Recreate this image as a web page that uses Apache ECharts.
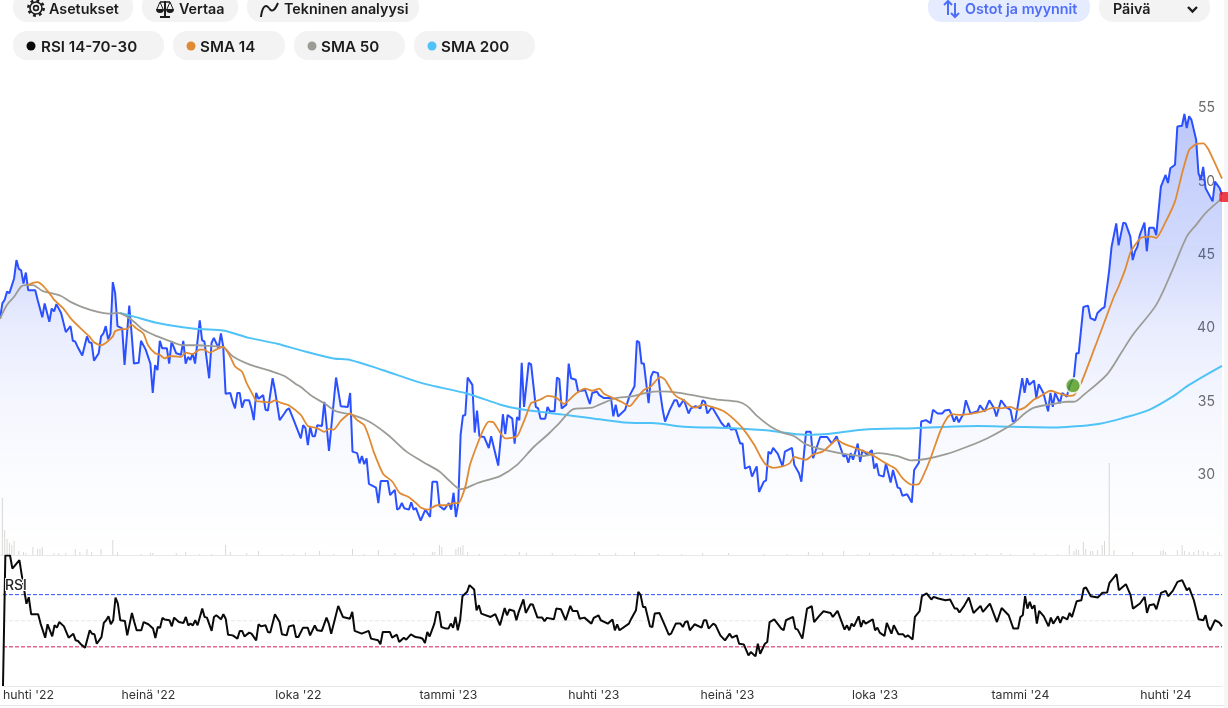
<!DOCTYPE html>
<html><head><meta charset="utf-8">
<style>html,body{margin:0;padding:0;background:#fff}#c{width:1228px;height:708px}</style>
<script src="https://cdn.jsdelivr.net/npm/echarts@6/dist/echarts.min.js"></script>
</head><body><div id="c"></div>
<script>
const tickDays=[0,62,126,190,252,309,372,434,496];
const tickLabels=["huhti '22","heinä '22","loka '22","tammi '23","huhti '23","heinä '23","loka '23","tammi '24","huhti '24"];
const priceTicks=[30,35,40,45,50,55];

const priceDay=[0,1,2,3,4,6,7,8,9,10,11,12,15,16,18,19,21,22,23,24,26,28,30,31,32,33,35,37,38,39,40,42,43,44,45,46,47,48,49,50,52,53,55,56,57,59,60,62,64,65,66,67,68,69,71,72,73,75,77,78,79,80,81,82,83,85,86,87,89,90,91,93,94,95,96,98,99,100,101,102,103,104,106,107,108,109,110,112,113,114,116,117,119,121,122,123,125,
128,129,130,131,132,133,134,135,137,138,140,143,145,148,149,150,152,153,154,155,156,157,160,161,162,165,166,168,169,170,171,172,174,175,176,177,179,181,183,184,186,187,189,191,192,193,194,195,196,197,198,199,201,202,203,204,206,208,209,212,214,215,216,218,219,220,221,222,223,225,226,228,229,230,232,233,234,236,237,238,239,241,242,243,245,246,249,251,252,254,255,
257,260,261,262,263,266,268,270,271,272,273,274,276,277,278,280,281,282,283,285,287,288,289,291,293,294,296,298,299,300,301,303,305,307,309,310,311,313,315,316,317,319,320,322,323,325,326,327,328,329,331,333,334,337,338,
340,341,343,345,346,349,352,354,356,359,360,361,362,363,365,366,367,369,371,372,373,374,376,377,379,380,382,383,384,386,388,389,391,392,394,396,397,399,401,402,404,405,406,407,408,410,411,413,416,417,419,421,423,424,426,428,430,431,432,435,436,437,438,440,441,442,444,446,447,448,449,451,452,454,455,
457,458,459,461,463,464,466,467,469,470,472,473,475,476,478,479,481,482,483,484,485,487,488,489,491,492,494,496,497,498,500,501,503,504,505,506,507,509,510,511,512,513,516,517,519,520];
const priceClose=[40.5,41.55,41.8,42.35,42.25,43.25,44.5,43.9,43.8,42.9,43.65,42.45,42.45,41.8,40.6,41.55,40.3,41.2,41.0,41.5,40.9,39.6,40.0,39.0,38.95,38.6,38.0,39.3,38.9,38.85,37.65,38.15,39.3,39.5,40.0,39.1,39.5,43.0,42.25,40.0,39.85,37.35,41.4,39.5,37.45,37.5,39.0,38.4,37.45,35.45,37.35,37.0,39.0,38.5,38.5,37.45,38.95,38.15,38.05,39.0,37.45,37.9,37.7,38.15,37.45,40.4,39.05,38.95,36.45,38.85,39.2,38.5,39.5,38.6,35.4,35.45,34.85,34.4,35.45,35.45,34.45,34.95,34.95,34.4,33.6,35.45,35.05,35.3,34.3,34.25,36.45,35.65,33.6,34.05,34.3,34.4,33.6,
32.35,33.25,33.05,31.9,33.15,32.5,32.5,33.25,33.2,34.85,31.5,36.5,34.55,34.5,35.45,31.45,31.35,30.65,31.15,30.6,31.0,29.25,29.0,27.95,29.45,29.45,28.5,28.85,27.5,27.6,27.95,27.6,27.5,28.0,27.5,27.6,26.75,27.5,27.0,29.4,29.4,27.75,27.5,27.95,27.5,28.65,27.0,27.95,32.6,33.9,33.95,36.5,36.0,32.75,34.25,32.5,32.45,31.7,32.5,30.5,34.0,32.65,33.95,33.7,32.0,33.8,33.6,37.5,34.5,37.5,37.4,34.5,34.4,33.7,33.7,34.5,34.2,34.2,36.5,36.4,34.4,34.65,37.45,36.45,36.35,35.55,35.65,34.7,35.45,35.55,35.3,
35.1,35.1,33.85,34.65,33.85,34.3,35.3,35.9,39.0,38.9,37.45,37.45,34.75,36.55,36.9,36.8,35.4,34.3,33.5,34.3,34.95,34.95,34.5,35.0,34.05,34.4,34.55,34.4,34.95,34.85,34.05,34.5,33.95,33.4,33.05,33.4,32.95,33.0,32.0,32.0,30.3,30.45,29.75,30.45,28.7,29.4,29.5,31.45,31.3,31.7,31.3,30.45,31.45,31.7,30.55,
29.98,29.4,32.8,32.8,31.0,32.45,32.45,32.0,32.5,31.1,31.25,30.7,31.35,30.9,32.0,30.75,31.55,31.25,31.55,30.3,30.65,29.85,29.75,30.65,29.35,30.2,29.0,28.95,28.45,28.55,27.98,30.2,30.7,33.5,33.6,33.4,34.3,34.05,34.05,34.25,34.3,33.95,33.5,33.85,33.45,34.05,34.95,34.05,34.2,34.6,34.2,34.95,34.4,33.85,34.95,34.5,34.3,33.5,33.5,36.45,35.45,36.45,36.0,36.3,35.1,36.05,35.45,34.2,35.45,34.5,35.45,34.75,35.45,35.2,35.9,
36.55,38.15,38.15,41.3,41.4,40.55,40.4,40.9,41.2,41.3,43.8,45.4,47.0,45.5,47.05,47.0,46.1,44.5,45.1,45.4,46.2,47.05,45.1,46.7,46.7,46.2,49.5,50.3,49.75,50.75,51.0,53.6,53.65,54.45,53.5,54.3,54.05,52.7,50.4,50.0,50.85,49.4,48.5,49.85,49.4,48.95];

const sma14Day=[12,14,16,18,21,23,27,30,34,38,40,43,45,48,49,52,54,56,58,61,63,66,68,70,72,74,77,79,82,85,87,89,92,95,98,100,103,105,108,109,112,115,117,120,123,128,131,135,138,140,142,145,149,152,155,157,159,163,167,170,174,177,179,182,186,190,193,195,198,200,203,206,208,210,213,215,220,222,224,226,230,233,237,240,245,249,252,255,257,261,265,268,271,274,277,281,283,286,288,291,294,296,299,304,308,312,316,321,324,326,329,333,336,338,340,343,346,350,353,356,359,364,369,373,377,381,384,388,391,393,396,400,403,405,409,414,418,423,426,430,433,436,440,442,447,450,455,457,460,466,470,474,476,479,481,484,486,490,492,496,500,503,506,509,512,514,517,520];
const sma14Value=[42.8,42.95,43.0,42.8,42.25,41.8,41.2,40.55,39.9,39.3,38.9,38.7,38.85,39.3,39.65,39.8,39.8,40.1,39.85,39.5,38.7,38.15,38.05,37.8,37.95,37.95,37.9,38.2,38.1,38.4,38.4,38.2,38.4,38.6,37.9,37.25,36.9,36.1,35.2,34.9,34.85,34.8,34.95,34.75,34.6,33.95,33.2,33.05,32.8,33.0,32.95,33.55,34.05,33.6,33.25,32.45,31.45,29.95,29.4,28.65,28.35,27.95,27.65,27.5,27.8,27.8,27.95,27.95,29.05,30.55,31.9,33.05,33.5,33.45,32.7,32.35,32.5,33.15,33.95,34.75,35.0,35.25,35.1,34.7,35.4,35.75,35.6,35.75,35.4,35.1,34.8,34.55,35.1,35.65,35.9,36.55,36.35,35.55,35.2,34.95,34.55,34.45,34.65,34.45,34.2,33.7,33.05,31.9,31.0,30.55,30.35,30.45,30.65,31.1,31.0,30.9,31.25,31.45,31.85,32.25,32.0,31.7,31.4,31.05,30.65,30.3,29.65,29.2,29.25,29.85,31.0,32.8,33.75,34.0,33.95,34.05,34.2,34.45,34.4,34.5,34.3,34.45,35.0,35.15,35.6,35.45,35.25,35.3,36.1,38.6,40.3,42.0,42.7,43.95,45.0,45.75,46.05,46.1,46.0,47.1,48.5,50.4,52.0,52.4,52.45,52.1,51.1,50.05];

const sma50Day=[0,3,6,9,11,14,18,23,26,30,35,42,46,50,53,57,61,67,72,78,84,89,95,99,106,115,121,126,128,133,138,143,149,157,165,173,180,187,191,196,198,203,207,213,220,227,233,238,244,248,252,255,262,268,275,281,289,298,305,314,318,322,328,333,338,343,350,359,367,374,382,388,394,403,411,420,431,436,440,448,454,457,461,471,477,482,492,499,505,509,513,520];
const sma50Value=[40.5,41.45,42.0,42.7,42.8,42.8,42.4,42.2,42.05,41.65,41.3,40.95,40.85,40.9,40.75,40.3,39.75,39.3,39.0,38.7,38.7,38.65,38.55,37.95,37.4,36.95,36.6,36.05,35.85,35.2,34.75,34.2,34.0,33.5,32.6,31.45,30.75,30.1,29.5,28.9,28.95,29.3,29.5,29.8,30.55,31.75,32.6,33.4,34.35,34.4,34.45,34.65,35.1,35.2,35.45,35.55,35.45,35.2,35.0,34.85,34.55,33.9,33.15,32.75,32.5,31.95,31.6,31.3,31.15,31.35,31.15,30.85,30.95,31.3,31.75,32.35,33.35,34.05,34.45,34.7,34.85,34.85,35.3,36.7,38.15,39.4,41.45,43.85,46.1,46.9,47.7,48.7];

const sma200Day=[51,57,66,75,85,95,106,118,128,142,149,163,180,199,213,221,241,255,270,277,291,312,326,343,352,367,389,416,431,450,460,468,477,489,499,506,520];
const sma200Value=[40.9,40.65,40.25,40.0,39.8,39.7,39.2,38.8,38.35,37.8,37.7,37.0,36.1,35.4,34.65,34.35,33.95,33.65,33.4,33.4,33.15,33.05,32.9,32.6,32.65,32.95,33.05,33.2,33.15,33.1,33.2,33.35,33.7,34.3,35.2,36.0,37.3];

const rsiDay=[0,1,3,4,7,8,10,11,12,15,16,18,19,21,22,23,24,26,28,30,31,32,33,35,37,38,39,40,42,43,44,45,46,47,48,49,50,52,53,55,56,57,59,60,62,64,65,66,67,68,69,71,72,73,75,77,78,79,80,81,82,83,85,86,87,89,90,91,93,94,95,96,98,100,101,102,103,105,106,108,109,110,112,113,114,116,118,119,121,122,124,125,126,128,130,131,133,134,136,138,139,140,143,145,148,149,150,153,156,157,160,161,162,165,166,168,169,171,172,174,176,178,
179,180,181,182,184,185,186,187,189,190,191,192,193,194,195,196,198,199,201,202,203,204,208,210,212,214,215,216,218,219,220,222,223,225,226,228,230,231,232,235,236,238,240,242,243,245,246,248,251,252,254,255,258,260,261,262,263,267,268,270,271,272,273,274,276,277,278,280,282,284,285,287,289,290,291,292,293,295,298,299,300,301,303,304,306,308,310,311,313,314,316,318,319,321,322,323,325,326,327,329,332,333,334,337,338,339,341,343,345,346,348,350,353,354,356,
359,360,361,362,363,365,366,367,368,371,372,373,374,376,377,379,380,382,384,385,386,388,389,391,392,394,396,397,399,402,404,406,407,408,410,412,414,417,418,421,424,426,429,431,433,434,435,436,437,438,439,440,441,442,444,446,447,448,450,451,452,454,455,456,458,460,461,462,464,467,469,471,472,475,476,479,481,482,485,487,488,489,491,492,494,496,497,499,501,503,505,506,508,510,512,513,514,515,517,519,520];
const rsiValue=[0,100,100,90,96.5,85,63,68,55,55,48,37,47.3,38,46.5,44.7,49,45.7,37,40,35,34.5,32.4,29.3,42.7,40,39.6,32.4,37.5,48.3,50.4,53.4,47.3,50.4,67.8,63.2,50.4,49.8,38.8,56,49,42.7,42.7,49,47.3,44,36.8,45.2,44.7,52.2,50.9,50.4,45.7,52.4,49,48.3,52.9,46.5,47.8,46.5,50.4,46.5,59.3,52.9,52.4,42.2,52.9,54.2,51.1,55,51.6,39.3,38.8,36.3,42.2,42.2,38,40.9,40.1,35,47.3,45.7,46.5,41.4,40.9,55,49,39.6,38.8,45.7,46.5,37.5,37.5,44.7,44.7,38.8,46.5,42.7,42.2,52.4,47.8,40.1,61.4,52.9,51.6,56.8,42.2,40.1,42.2,36.3,35,31.9,41.4,41.4,37,39.3,33.7,37,35.5,39.6,37.5,37,
36.2,32.9,41.4,38,47.8,56.8,56.8,45.2,44,44,47.8,44.7,52.9,42.7,50.4,68.8,72.2,77.3,73.9,58,61.9,55.5,52.9,55,46.5,59.8,54.2,58.6,57.5,50.4,56.8,66.3,56,62.7,62.4,52.4,52.4,49.6,52.2,51.1,59.3,58.8,50.4,61.4,57.5,57.5,51.6,52.4,47.8,52.2,54.2,50.4,47.8,50.9,42.7,47.3,42.7,47.8,51.6,58,72.2,69.6,60.6,60.6,45.7,45.2,55.5,56,47.8,39.3,40.1,47.8,47.8,45.2,49,49.6,42.7,47.3,44.7,50.4,50.4,44,47.8,46.5,38.8,35,40.1,37,38.8,32.4,31.9,23.4,26,22.7,32.4,24.7,32.4,33.7,49,51.1,44,42.7,50.4,52.9,44,43.2,36.3,59.3,61.1,49,53.4,57.3,56,52.9,57.5,
43.2,46.5,42.7,47.8,45.7,53.4,45.2,50.4,47.8,51.1,42.7,44.7,40.9,38.3,48.3,40.1,46.5,39.6,39.6,37.5,38.8,35.7,52.9,57.3,68.8,70.9,66.3,68.3,67,65.7,66.3,59.3,59.3,56.3,61.4,67.8,56,61.4,56.8,63.2,49,59.8,54.2,44,44,52.9,54.2,68.8,59.3,64.5,59.3,61.9,47.8,57.5,53.4,45.7,52.4,47.8,53.4,48.3,52.9,51.1,56,52.9,65,65.7,74.7,75.5,68.8,67.8,71.4,71.6,79.1,85.7,73.4,78,69.6,59.3,63.2,68.3,56,61.9,62.7,58.8,71.4,72.9,68.8,72.9,79.8,81.1,73.4,75.2,65.7,51.1,50.4,54.2,46,42.7,50.4,48.3,45.7];

const volumeDay=[1,2,3,4,5,6,8,10,11,14,16,17,18,23,25,28,32,34,37,39,43,48,50,64,65,79,96,98,110,136,150,161,176,184,185,187,188,194,195,196,197,199,221,224,255,270,299,344,359,380,397,426,455,457,458,459,461,462,464,465,467,469,470,472,474,482,494,495,496,501,503,504,506,508,510,512,514,517,519,60,75,85,90,105,120,125,130,142,155,168,204,215,235,245,262,280,290,310,325,335,350,365,370,385,390,400,405,410,415,420,430,440,445,450];
const volumeValue=[57,25,16,12,10,14,4,3,2,8,6,6,8,2,2,2,6,3,6,3,6,15,3,2,2,3,10,3,4,4,6,5,2,3,3,10,8,6,8,8,10,3,3,2,2,3,2,3,4,1,3,2,10,4,6,5,13,6,4,4,5,10,14,92,5,3,4,5,3,5,10,4,3,3,5,4,3,2,3,1,2,1,1,2,1,1,2,1,1,2,1,1,2,1,2,1,1,2,1,1,2,1,2,1,1,2,1,1,2,1,1,2,1,1];

const rsiLevelDays=[0,520];
const rsiOverbought=[70,70], rsiMiddle=[50,50], rsiOversold=[30,30];
const buyDay=[456.6], buyPrice=[35.95];
const sellDay=[521], sellPrice=[48.8];

const zip=(a,b)=>a.map((d,i)=>[d,b[i]]);
const FONT='Inter, "Noto Sans", sans-serif';
const X_MAX=520;
const INK='#1c1c1c', ACCENT='#4f6ef7';

function pill(x,y,w,h,fill){return {type:'rect',silent:true,z:1,shape:{x,y,width:w,height:h,r:14},style:{fill:fill||'#f3f3f3'}};}
function txt(t,x,y,color,size){return {type:'text',silent:true,z:2,x,y,style:{text:t,fill:color||INK,font:'600 '+(size||14.3)+'px '+FONT,verticalAlign:'middle',align:'left'}};}
function dot(x,y,c){return {type:'circle',silent:true,z:2,shape:{cx:x,cy:y,r:4.5},style:{fill:c}};}
function poly(points,color,lw){return {type:'polyline',silent:true,z:2,shape:{points},style:{fill:'none',stroke:color||INK,lineWidth:lw||2}};}
function ring(cx,cy,r,lw,dash){return {type:'circle',silent:true,z:2,shape:{cx,cy,r},style:{fill:'none',stroke:INK,lineWidth:lw,lineDash:dash||null}};}
function bowl(cx,cy){return {type:'sector',silent:true,z:2,shape:{cx,cy,r0:0,r:4,startAngle:0,endAngle:Math.PI},style:{fill:INK}};}
function curve(x1,y1,cpx1,cpy1,cpx2,cpy2,x2,y2){return {type:'bezierCurve',silent:true,z:2,shape:{x1,y1,cpx1,cpy1,cpx2,cpy2,x2,y2},style:{fill:'none',stroke:INK,lineWidth:2}};}
function level(name,values,color){return {type:'line',name,xAxisIndex:2,yAxisIndex:2,data:zip(rsiLevelDays,values),showSymbol:false,silent:true,z:3,lineStyle:{color,type:'dashed',width:1}};}

const graphics=[
 {type:'rect',silent:true,z:0,shape:{x:1224,y:0,width:4,height:708},style:{fill:'#f6f6f6'}},
 {type:'rect',silent:true,z:0,shape:{x:0,y:705,width:1224,height:1},style:{fill:'#e8e8e8'}},
 pill(13,-8,120,30),txt('Asetukset',49,9.5),
 ring(36,8,7.6,2.6,[2.8,3.2]),ring(36,8,6,1.6),ring(36,8,2.4,1.6),
 pill(142,-8,96,30),txt('Vertaa',179,9.5),
 poly([[165,1],[165,17]]),poly([[160,17],[170,17]]),poly([[160,2],[170,2]],INK,1.5),
 poly([[160,2],[157,9]],INK,1),poly([[160,2],[163,9]],INK,1),poly([[170,2],[167,9]],INK,1),poly([[170,2],[173,9]],INK,1),
 bowl(160,9),bowl(170,9),
 pill(247,-8,172,30),txt('Tekninen analyysi',284,9.5),
 curve(261,17,262,8,265,3,269,8),curve(269,8,272,13,275,10,278,3),
 pill(928,-8,162,30,'#e5ecff'),txt('Ostot ja myynnit',965,9.5,ACCENT),
 poly([[948,15],[948,1]],ACCENT),poly([[944,5],[948,1],[952,5]],ACCENT),
 poly([[955,3],[955,17]],ACCENT),poly([[951,13],[955,17],[959,13]],ACCENT),
 pill(1099,-8,111,30),txt('Päivä',1113,9.5),
 poly([[1188,7],[1192.5,11.5],[1197,7]],INK,2.4),
 pill(13,31,151,29),dot(31,46,'#0a0a0a'),txt('RSI 14-70-30',41,47,INK,15.2),
 pill(173,31,112,29),dot(191,46,'#e08a33'),txt('SMA 14',200,47,INK,15.2),
 pill(294,31,111,29),dot(312,46,'#9c9c97'),txt('SMA 50',321,47,INK,15.2),
 pill(414,31,121,29),dot(432,46,'#4fc3f7'),txt('SMA 200',441,47,INK,15.2),
 {type:'text',silent:true,z:30,x:5,y:586,style:{text:'RSI',fill:'#222',font:'500 14px '+FONT,verticalAlign:'middle',align:'left',stroke:'#fff',lineWidth:2}}
];

const chart=echarts.init(document.getElementById('c'),null,{renderer:'canvas'});
chart.setOption({
 animation:false,
 graphic:graphics,
 grid:[
  {left:0,top:60,width:1222,height:495},
  {left:0,top:455,width:1222,height:100},
  {left:0,top:555.5,width:1222,height:130.5}
 ],
 xAxis:[
  {type:'value',gridIndex:0,min:0,max:X_MAX,axisLine:{show:true,onZero:false,lineStyle:{color:'#e8e8e8',width:1}},axisTick:{show:false},axisLabel:{show:false},splitLine:{show:false}},
  {type:'value',gridIndex:1,min:0,max:X_MAX,show:false},
  {type:'value',gridIndex:2,min:0,max:X_MAX,
  axisLine:{show:true,onZero:false,lineStyle:{color:'#e8e8e8',width:1}},
  axisTick:{show:false},splitLine:{show:false},
  axisLabel:{customValues:tickDays,formatter:v=>tickLabels[tickDays.indexOf(v)]||'',color:'#333',fontFamily:FONT,fontSize:12.3,margin:3,alignMinLabel:'left',showMinLabel:true}
 }],
 yAxis:[
  {type:'value',gridIndex:0,position:'right',min:24.41,max:58.13,axisLine:{show:false},axisTick:{show:false},splitLine:{show:false},
   axisLabel:{inside:true,customValues:priceTicks,formatter:v=>`{a|${v}}`,margin:7,
    rich:{a:{color:'#6b6b6b',fontFamily:FONT,fontSize:14,padding:[4,0,0,0]}}}},
  {type:'value',gridIndex:1,min:0,max:100,show:false},
  {type:'value',gridIndex:2,min:0,max:100,show:false}
 ],
 series:[
  {type:'line',name:'Hinta',xAxisIndex:0,yAxisIndex:0,data:zip(priceDay,priceClose),showSymbol:false,z:3,
   lineStyle:{color:'#2b50ff',width:2},
   areaStyle:{origin:'start',color:new echarts.graphic.LinearGradient(0,0,0,1,[
    {offset:0,color:'rgba(43,80,240,0.46)'},{offset:0.08,color:'rgba(43,80,240,0.41)'},{offset:0.31,color:'rgba(43,80,240,0.3)'},
    {offset:0.49,color:'rgba(43,80,240,0.15)'},{offset:0.65,color:'rgba(43,80,240,0.07)'},{offset:0.81,color:'rgba(43,80,240,0.03)'},{offset:1,color:'rgba(43,80,240,0)'}])}},
  {type:'line',name:'SMA 200',xAxisIndex:0,yAxisIndex:0,data:zip(sma200Day,sma200Value),showSymbol:false,smooth:0.3,z:4,lineStyle:{color:'#4fc3f7',width:2}},
  {type:'line',name:'SMA 50',xAxisIndex:0,yAxisIndex:0,data:zip(sma50Day,sma50Value),showSymbol:false,smooth:0.3,z:5,lineStyle:{color:'#9c9c97',width:1.8}},
  {type:'line',name:'SMA 14',xAxisIndex:0,yAxisIndex:0,data:zip(sma14Day,sma14Value),showSymbol:false,smooth:0.2,z:6,lineStyle:{color:'#e08a33',width:1.8}},
  {type:'bar',name:'Volyymi',xAxisIndex:1,yAxisIndex:1,data:zip(volumeDay,volumeValue),barWidth:1,itemStyle:{color:'#d9d9d6'},z:2},
  level('RSI 70',rsiOverbought,'#2b50ff'),
  level('RSI 50',rsiMiddle,'#e6e6e6'),
  level('RSI 30',rsiOversold,'#d81b60'),
  {type:'line',name:'RSI',xAxisIndex:2,yAxisIndex:2,data:zip(rsiDay,rsiValue),showSymbol:false,z:5,lineStyle:{color:'#0a0a0a',width:2}},
  {type:'scatter',name:'Osto',xAxisIndex:0,yAxisIndex:0,data:zip(buyDay,buyPrice),symbolSize:15,z:8,clip:false,
   itemStyle:{color:'#4f9a16',borderColor:'#fff',borderWidth:2}},
  {type:'scatter',name:'Myynti',xAxisIndex:0,yAxisIndex:0,data:zip(sellDay,sellPrice),symbol:'roundRect',symbolSize:[10,10],z:8,clip:false,
   itemStyle:{color:'#e8121f'}}
 ]
});
</script></body></html>
